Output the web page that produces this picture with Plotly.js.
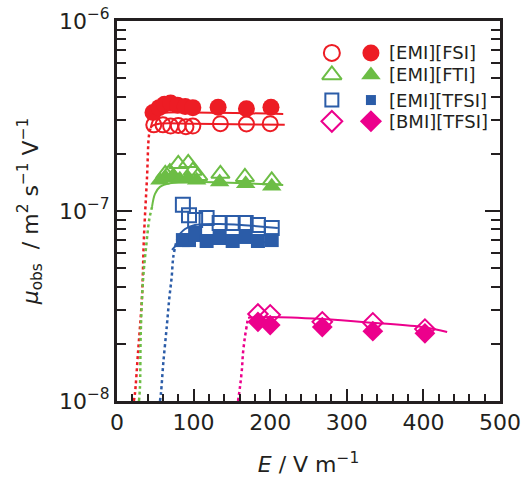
<!DOCTYPE html>
<html>
<head>
<meta charset="utf-8">
<script src="https://cdn.plot.ly/plotly-3.0.1.min.js"></script>
<style>html,body{margin:0;padding:0;background:#fff;}#chart{width:524px;height:480px;}</style>
</head>
<body>
<div id="chart"></div>
<script>
// ---------- data ----------
// E / V m^-1 and mobility mu_obs / m^2 s^-1 V^-1
const fsiOpenE   = [48, 60, 70, 80, 90, 99, 135, 169, 200];
const fsiOpenMu  = [2.84e-7, 2.84e-7, 2.80e-7, 2.82e-7, 2.78e-7, 2.80e-7, 2.88e-7, 2.87e-7, 2.88e-7];
const fsiFillE   = [47, 55, 62, 70, 79, 89, 99, 132, 169, 201];
const fsiFillMu  = [3.30e-7, 3.50e-7, 3.65e-7, 3.70e-7, 3.60e-7, 3.55e-7, 3.50e-7, 3.52e-7, 3.45e-7, 3.52e-7];

const ftiOpenE   = [63, 69, 80, 93, 99, 106, 135, 167, 202];
const ftiOpenMu  = [1.57e-7, 1.60e-7, 1.77e-7, 1.79e-7, 1.63e-7, 1.53e-7, 1.57e-7, 1.51e-7, 1.45e-7];
const ftiFillE   = [56, 64, 73, 82, 93, 104, 134, 168, 202];
const ftiFillMu  = [1.45e-7, 1.49e-7, 1.53e-7, 1.47e-7, 1.49e-7, 1.45e-7, 1.42e-7, 1.39e-7, 1.35e-7];

const tfsiOpenE  = [86, 94, 102, 117, 134, 151, 168, 184, 202];
const tfsiOpenMu = [1.08e-7, 9.5e-8, 8.97e-8, 9.2e-8, 8.65e-8, 8.65e-8, 8.65e-8, 8.44e-8, 8.15e-8];
const tfsiFillE  = [86, 94, 102, 117, 134, 151, 168, 184, 202];
const tfsiFillMu = [7.03e-8, 7.03e-8, 7.48e-8, 6.95e-8, 7.21e-8, 6.95e-8, 7.30e-8, 6.95e-8, 7.03e-8];

const bmiOpenE   = [184, 200, 268, 334, 402];
const bmiOpenMu  = [2.87e-8, 2.84e-8, 2.61e-8, 2.58e-8, 2.39e-8];
const bmiFillE   = [184, 200, 268, 334, 402];
const bmiFillMu  = [2.61e-8, 2.51e-8, 2.45e-8, 2.33e-8, 2.27e-8];

// fitted curves (solid) and their low-field extrapolation (dotted)
const fsiOpenFitE  = [44, 47, 55, 100, 219];
const fsiOpenFitMu = [2.74e-7, 2.82e-7, 2.88e-7, 2.88e-7, 2.84e-7];
const fsiFillFitE  = [44, 47, 52, 60, 100, 217];
const fsiFillFitMu = [2.74e-7, 3.0e-7, 3.2e-7, 3.28e-7, 3.30e-7, 3.24e-7];
const fsiDotE      = [22, 23.5, 27.4, 32.6, 35.2, 39.2, 41.8, 44];
const fsiDotMu     = [1.0e-8, 1.1e-8, 1.79e-8, 3.52e-8, 7.3e-8, 1.51e-7, 2.51e-7, 2.74e-7];

const ftiFitE      = [45.7, 49.6, 56, 69, 108, 217];
const ftiFitMu     = [1.05e-7, 1.23e-7, 1.34e-7, 1.40e-7, 1.42e-7, 1.37e-7];
const ftiDotE      = [28.7, 30, 31, 34, 38, 42, 45.7];
const ftiDotMu     = [1.0e-8, 1.19e-8, 2.28e-8, 4.34e-8, 6.47e-8, 8.97e-8, 1.05e-7];

const tfsiOpenFitE  = [77.9, 82.2, 88.8, 101.8, 134.5, 210];
const tfsiOpenFitMu = [7.03e-8, 7.57e-8, 8.04e-8, 8.44e-8, 8.55e-8, 8.15e-8];
const tfsiFillFitE  = [71.8, 79.6, 90, 134.5, 210];
const tfsiFillFitMu = [6.24e-8, 6.70e-8, 7.03e-8, 7.03e-8, 6.79e-8];
const tfsiDotE      = [56.1, 57.4, 60.4, 64.9, 68.3, 71.4, 73.5, 77.9];
const tfsiDotMu     = [1.0e-8, 1.10e-8, 1.58e-8, 2.45e-8, 3.48e-8, 4.50e-8, 5.73e-8, 7.03e-8];

const bmiFitE   = [171, 200, 268, 334, 402, 431];
const bmiFitMu  = [2.74e-8, 2.77e-8, 2.70e-8, 2.58e-8, 2.44e-8, 2.31e-8];
const bmiDotE   = [158, 160.6, 163, 164.5, 167, 170, 171];
const bmiDotMu  = [1.0e-8, 1.19e-8, 1.46e-8, 1.79e-8, 2.17e-8, 2.58e-8, 2.74e-8];

// legend / ticks
const legendLabels = ['[EMI][FSI]', '[EMI][FTI]', '[EMI][TFSI]', '[BMI][TFSI]'];
const yTickVals = [1e-8, 1e-7, 1e-6];
const yTickText = ['10<sup>−8</sup>', '10<sup>−7</sup>', '10<sup>−6</sup>'];

// ---------- styles ----------
const RED = '#ed1c24', GREEN = '#6cbd45', BLUE = '#2b5ca8', PINK = '#ec008c', INK = '#231f20';
const FONT = 'DejaVu Sans, Liberation Sans, sans-serif';

const colors   = [RED, GREEN, BLUE, PINK];
const openSym  = ['circle-open', 'triangle-up-open', 'square-open', 'diamond-open'];
const fillSym  = ['circle', 'triangle-up', 'square', 'diamond'];
const openSize = [15, 16, 14, 15];
const fillSize = [17, 17, 14, 16];

function line(x, y, color, dash) {
  return {x: x, y: y, type: 'scatter', mode: 'lines', hoverinfo: 'skip', showlegend: false,
          line: {color: color, width: dash ? 2.5 : 2, dash: dash || 'solid', shape: 'spline'}};
}
function pts(x, y, i, open) {
  return {x: x, y: y, type: 'scatter', mode: 'markers', showlegend: false,
          marker: {symbol: open ? openSym[i] : fillSym[i], size: open ? openSize[i] : fillSize[i],
                   color: colors[i], line: {color: colors[i], width: open ? 2 : 0}}};
}

const traces = [
  line(fsiDotE, fsiDotMu, RED, 'dot'),
  line(ftiDotE, ftiDotMu, GREEN, 'dot'),
  line(tfsiDotE, tfsiDotMu, BLUE, 'dot'),
  line(bmiDotE, bmiDotMu, PINK, 'dot'),
  line(fsiOpenFitE, fsiOpenFitMu, RED),
  line(fsiFillFitE, fsiFillFitMu, RED),
  line(ftiFitE, ftiFitMu, GREEN),
  line(tfsiOpenFitE, tfsiOpenFitMu, BLUE),
  line(tfsiFillFitE, tfsiFillFitMu, BLUE),
  line(bmiFitE, bmiFitMu, PINK),
  pts(fsiOpenE, fsiOpenMu, 0, true),
  pts(fsiFillE, fsiFillMu, 0, false),
  pts(ftiOpenE, ftiOpenMu, 1, true),
  pts(ftiFillE, ftiFillMu, 1, false),
  pts(tfsiOpenE, tfsiOpenMu, 2, true),
  pts(tfsiFillE, tfsiFillMu, 2, false),
  pts(bmiOpenE, bmiOpenMu, 3, true),
  pts(bmiFillE, bmiFillMu, 3, false)
];

// custom two-column legend on an overlay axis pair spanning the plot area
const legRowY = [0.916, 0.858, 0.792, 0.736];
const legOpenX = 0.561, legFillX = 0.663, legTextX = 0.705;
const legOpenSize = [16, 17, 13, 16];
const legFillSize = [17, 17, 10, 17];
legendLabels.forEach(function (lab, i) {
  traces.push({x: [legOpenX], y: [legRowY[i]], xaxis: 'x2', yaxis: 'y2', type: 'scatter', mode: 'markers',
    showlegend: false, hoverinfo: 'skip',
    marker: {symbol: openSym[i], size: legOpenSize[i], color: colors[i], line: {color: colors[i], width: 2}}});
  traces.push({x: [legFillX], y: [legRowY[i]], xaxis: 'x2', yaxis: 'y2', type: 'scatter', mode: 'markers',
    showlegend: false, hoverinfo: 'skip',
    marker: {symbol: fillSym[i], size: legFillSize[i], color: colors[i], line: {width: 0}}});
});
const annotations = legendLabels.map(function (lab, i) {
  return {xref: 'paper', yref: 'paper', x: legTextX, y: legRowY[i], xanchor: 'left', yanchor: 'middle',
          text: lab, showarrow: false, font: {family: FONT, size: 18, color: INK}};
});

// minor log ticks 2..9 per decade
const yMinor = [];
[1e-8, 1e-7].forEach(function (d) { for (let k = 2; k <= 9; k++) yMinor.push(k * d); });

const layout = {
  width: 524, height: 480,
  margin: {l: 117, r: 24, t: 21, b: 79},
  paper_bgcolor: '#fff', plot_bgcolor: '#fff',
  font: {family: FONT, color: INK, size: 22},
  showlegend: false,
  xaxis: {
    range: [0, 500], tick0: 0, dtick: 100, ticks: 'inside', ticklen: 12, tickwidth: 2, tickcolor: INK,
    showline: true, linewidth: 3, linecolor: INK, mirror: true, showgrid: false, zeroline: false,
    tickfont: {size: 22, family: FONT, color: INK},
    minor: {dtick: 20, tick0: 0, ticks: 'inside', ticklen: 7, tickwidth: 2, tickcolor: INK, showgrid: false},
    title: {text: '<i>E</i> / V m<sup>−1</sup>', font: {size: 22, family: FONT, color: INK}, standoff: 23}
  },
  yaxis: {
    type: 'log', range: [-8, -6], tickmode: 'array', tickvals: yTickVals, ticktext: yTickText,
    ticks: 'inside', ticklen: 15, tickwidth: 2, tickcolor: INK,
    showline: true, linewidth: 3, linecolor: INK, mirror: 'allticks', showgrid: false, zeroline: false,
    tickfont: {size: 22, family: FONT, color: INK},
    minor: {tickmode: 'array', tickvals: yMinor, ticks: 'inside', ticklen: 9, tickwidth: 2, tickcolor: INK, showgrid: false},
    title: {text: '<i>μ</i><sub>obs</sub>  / m<sup>2</sup> s<sup>−1</sup> V<sup>−1</sup>',
            font: {size: 22, family: FONT, color: INK}, standoff: 15}
  },
  xaxis2: {overlaying: 'x', range: [0, 1], anchor: 'y2', visible: false, fixedrange: true},
  yaxis2: {overlaying: 'y', range: [0, 1], anchor: 'x2', visible: false, fixedrange: true},
  annotations: annotations
};

Plotly.newPlot('chart', traces, layout, {displayModeBar: false, staticPlot: true});
</script>
</body>
</html>
